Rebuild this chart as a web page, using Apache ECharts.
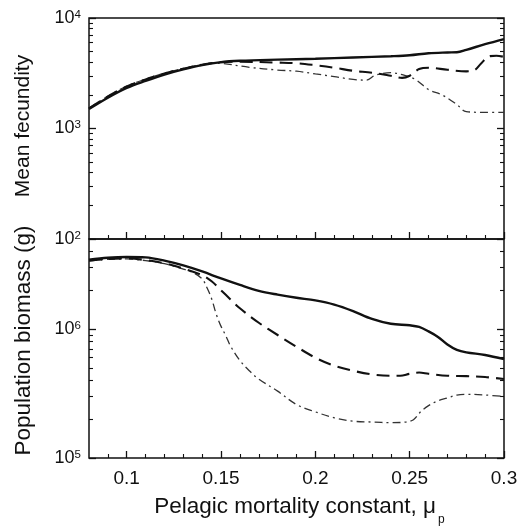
<!DOCTYPE html>
<html>
<head>
<meta charset="utf-8">
<script src="https://cdn.jsdelivr.net/npm/echarts@6/dist/echarts.min.js"></script>
<style>
html,body{margin:0;padding:0;background:#fff;}
#chart{width:532px;height:527px;}
</style>
</head>
<body>
<div id="chart"></div>
<script>
// ---------- data ----------
const fecSolidX = [0.08,0.09,0.10,0.11,0.12,0.13,0.14,0.15,0.16,0.18,0.20,0.22,0.24,0.25,0.26,0.27,0.275,0.28,0.29,0.30];
const fecSolidY = [1500,1900,2330,2700,3080,3430,3750,3990,4100,4200,4280,4390,4510,4600,4800,4880,4900,5150,5800,6450];

const fecDashX = [0.08,0.09,0.10,0.11,0.12,0.13,0.14,0.15,0.16,0.18,0.19,0.20,0.21,0.22,0.23,0.24,0.246,0.25,0.255,0.26,0.27,0.28,0.284,0.288,0.292,0.296,0.30];
const fecDashY = [1520,1950,2400,2780,3150,3480,3780,3990,4020,3950,3900,3740,3550,3330,3200,3000,2870,3000,3450,3550,3400,3290,3350,3900,4500,4560,4450];

const fecDotX = [0.08,0.09,0.10,0.11,0.12,0.13,0.14,0.145,0.15,0.165,0.18,0.19,0.20,0.21,0.22,0.227,0.232,0.24,0.246,0.253,0.26,0.267,0.275,0.28,0.29,0.30];
const fecDotY = [1530,1960,2420,2800,3170,3500,3790,3900,3880,3580,3380,3300,3120,2950,2780,2740,3050,3200,3070,2780,2250,2020,1650,1420,1400,1400];

const bioSolidX = [0.08,0.09,0.10,0.11,0.12,0.13,0.14,0.15,0.16,0.17,0.18,0.19,0.20,0.21,0.22,0.23,0.24,0.25,0.255,0.26,0.265,0.27,0.275,0.28,0.29,0.30];
const bioSolidY = [3.45e6,3.58e6,3.63e6,3.6e6,3.4e6,3.12e6,2.8e6,2.47e6,2.2e6,1.98e6,1.85e6,1.75e6,1.67e6,1.55e6,1.38e6,1.2e6,1.1e6,1.07e6,1.04e6,9.6e5,8.7e5,7.6e5,6.9e5,6.6e5,6.3e5,5.85e5];

const bioDashX = [0.08,0.09,0.10,0.11,0.12,0.13,0.14,0.145,0.15,0.155,0.16,0.17,0.18,0.19,0.20,0.21,0.22,0.23,0.24,0.245,0.25,0.255,0.26,0.27,0.28,0.29,0.30];
const bioDashY = [3.4e6,3.5e6,3.53e6,3.43e6,3.24e6,2.95e6,2.62e6,2.35e6,2.0e6,1.7e6,1.45e6,1.12e6,9.0e5,7.3e5,6.0e5,5.2e5,4.75e5,4.45e5,4.35e5,4.35e5,4.5e5,4.6e5,4.5e5,4.35e5,4.32e5,4.25e5,4.1e5];

const bioDotX = [0.08,0.09,0.10,0.11,0.12,0.13,0.135,0.14,0.1425,0.145,0.1475,0.15,0.1525,0.155,0.16,0.165,0.17,0.18,0.19,0.20,0.21,0.22,0.23,0.24,0.248,0.252,0.256,0.26,0.265,0.27,0.275,0.28,0.29,0.30];
const bioDotY = [3.38e6,3.48e6,3.5e6,3.4e6,3.22e6,2.92e6,2.75e6,2.45e6,2.1e6,1.72e6,1.3e6,1.05e6,8.9e5,7.4e5,5.7e5,4.75e5,4.1e5,3.3e5,2.6e5,2.28e5,2.05e5,1.93e5,1.9e5,1.88e5,1.9e5,1.98e5,2.3e5,2.55e5,2.78e5,2.92e5,3.08e5,3.12e5,3.08e5,3.0e5];

// ticks
const xMajorTicks = [0.1,0.15,0.2,0.25,0.3];
const xMajorLabels = ['0.1','0.15','0.2','0.25','0.3'];
const xMinorTicks = [0.09,0.11,0.12,0.13,0.14,0.16,0.17,0.18,0.19,0.21,0.22,0.23,0.24,0.26,0.27,0.28,0.29];
const fecMajorTicks = [100,1000,10000];
const fecMajorExps = ['2','3','4'];
const fecMinorTicks = [200,300,400,500,600,700,800,900,2000,3000,4000,5000,6000,7000,8000,9000];
const bioMajorTicks = [100000,1000000];
const bioMajorExps = ['5','6'];
const bioMinorTicks = [200000,300000,400000,500000,600000,700000,800000,900000,2000000,3000000,4000000];

// ---------- chart ----------
const FONT = '"Liberation Sans", Arial, Helvetica, sans-serif';
const INK = '#111';
const pairs = (xs, ys) => xs.map((x, i) => [x, ys[i]]);

function xAxes(grid, withLabels) {
  const base = {
    gridIndex: grid, type: 'value', min: 0.08, max: 0.3, position: 'bottom',
    axisLine: {show: false}, splitLine: {show: false}
  };
  return [
    Object.assign({}, base, {
      axisTick: {show: true, inside: true, length: 7, lineStyle: {color: INK, width: 1.3}, customValues: xMajorTicks},
      axisLabel: withLabels ? {
        show: true, margin: 11, fontSize: 19, fontFamily: FONT, color: INK,
        customValues: xMajorTicks,
        formatter: v => xMajorLabels[xMajorTicks.findIndex(t => Math.abs(t - v) < 1e-9)]
      } : {show: false},
      name: withLabels ? 'Pelagic mortality constant, μ{sub|p}' : '',
      nameLocation: 'middle', nameGap: 38,
      nameTextStyle: {
        fontSize: 22.5, fontFamily: FONT, color: INK, lineHeight: 22, padding: [0, 0, 0, 6],
        rich: {sub: {fontSize: 12, fontFamily: FONT, color: INK, lineHeight: 12, verticalAlign: 'top', padding: [18, 0, 0, 2]}}
      }
    }),
    Object.assign({}, base, {
      axisTick: {show: true, inside: true, length: 4, lineStyle: {color: INK, width: 1.1}, customValues: xMinorTicks},
      axisLabel: {show: false}
    })
  ];
}

function yAxes(grid, min, max, majors, exps, minors, name, nameSize, nameGap, namePad) {
  const base = {
    gridIndex: grid, type: 'log', logBase: 10, min: min, max: max,
    axisLine: {show: false}, splitLine: {show: false}
  };
  const tickMaj = {show: true, inside: true, length: 7, lineStyle: {color: INK, width: 1.3}, customValues: majors};
  const tickMin = {show: true, inside: true, length: 4, lineStyle: {color: INK, width: 1.1}, customValues: minors};
  return [
    Object.assign({}, base, {
      position: 'left', axisTick: tickMaj,
      axisLabel: {
        show: true, margin: 8, customValues: majors, showMinLabel: true, showMaxLabel: true,
        formatter: v => {
          const i = majors.findIndex(t => Math.abs(t - v) / t < 1e-6);
          return '{b|10}{s|' + exps[i] + '}';
        },
        rich: {
          b: {fontSize: 18, fontFamily: FONT, color: INK, lineHeight: 19},
          s: {fontSize: 11.5, fontFamily: FONT, color: INK, lineHeight: 12, verticalAlign: 'top'}
        }
      },
      name: name, nameLocation: 'middle', nameGap: nameGap,
      nameTextStyle: {fontSize: nameSize, fontFamily: FONT, color: INK, padding: namePad}
    }),
    Object.assign({}, base, {position: 'left', axisTick: tickMin, axisLabel: {show: false}}),
    Object.assign({}, base, {position: 'right', axisTick: tickMaj, axisLabel: {show: false}}),
    Object.assign({}, base, {position: 'right', axisTick: tickMin, axisLabel: {show: false}})
  ];
}

function line(name, data, xi, yi, type, width, color, z) {
  return {
    name: name, type: 'line', xAxisIndex: xi, yAxisIndex: yi, data: data,
    showSymbol: false, smooth: 0.35, z: z, silent: true,
    lineStyle: {color: color, width: width, type: type}
  };
}

const chart = echarts.init(document.getElementById('chart'), null, {renderer: 'canvas'});
chart.setOption({
  animation: false,
  backgroundColor: '#fff',
  grid: [
    {left: 89, right: 28, top: 18, height: 221, show: true, borderColor: INK, borderWidth: 1.5, backgroundColor: 'transparent'},
    {left: 89, right: 28, top: 239, height: 220, show: true, borderColor: INK, borderWidth: 1.5, backgroundColor: 'transparent'}
  ],
  xAxis: [].concat(xAxes(0, false), xAxes(1, true)),
  yAxis: [].concat(
    yAxes(0, 100, 10000, fecMajorTicks, fecMajorExps, fecMinorTicks, 'Mean fecundity', 21, 55, [0, 0, 0, 5]),
    yAxes(1, 100000, 5000000, bioMajorTicks, bioMajorExps, bioMinorTicks, 'Population biomass (g)', 22.5, 54, [0, 0, 0, 16])
  ),
  series: [
    line('fec dashdot', pairs(fecDotX, fecDotY), 0, 0, [8, 4, 2, 4], 1.3, '#333', 2),
    line('fec dashed', pairs(fecDashX, fecDashY), 0, 0, [13, 7], 2.1, INK, 3),
    line('fec solid', pairs(fecSolidX, fecSolidY), 0, 0, 'solid', 2.4, INK, 4),
    line('bio dashdot', pairs(bioDotX, bioDotY), 2, 4, [8, 4, 2, 4], 1.3, '#333', 2),
    line('bio dashed', pairs(bioDashX, bioDashY), 2, 4, [13, 7], 2.1, INK, 3),
    line('bio solid', pairs(bioSolidX, bioSolidY), 2, 4, 'solid', 2.4, INK, 4)
  ]
});
</script>
</body>
</html>
